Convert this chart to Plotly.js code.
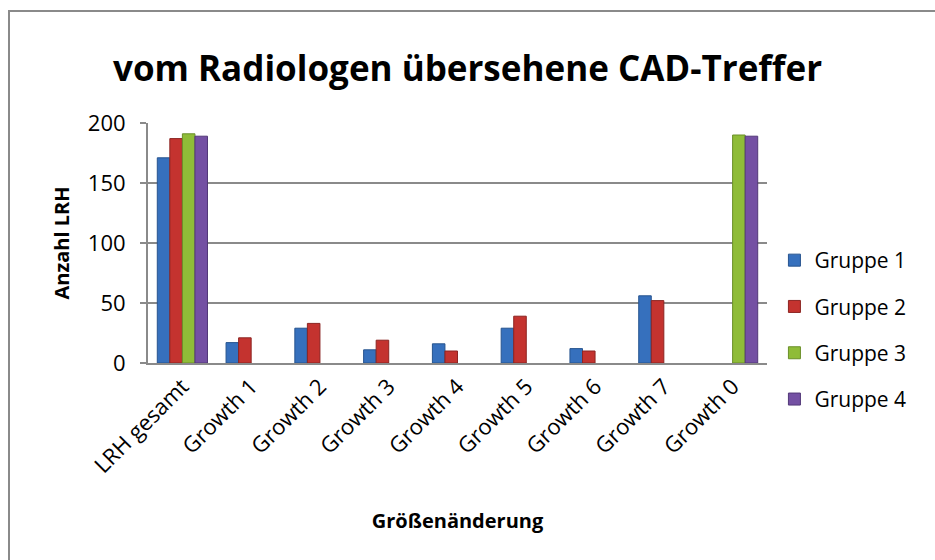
<!DOCTYPE html>
<html>
<head>
<meta charset="utf-8">
<script src="https://cdn.plot.ly/plotly-3.0.1.min.js"></script>
<style>
  html, body { margin: 0; padding: 0; background: #fff; }
  #wrap { position: relative; width: 935px; height: 560px; }
  #chart { width: 935px; height: 560px; }
  #frame { position: absolute; left: 8px; top: 10px; right: 0; bottom: 0;
           border-left: 2px solid #8a8a8a; border-top: 2px solid #8a8a8a; pointer-events: none; }
</style>
</head>
<body>
<div id="wrap"><div id="chart"></div><div id="frame"></div></div>
<script>
const categories = ['LRH gesamt', 'Growth 1', 'Growth 2', 'Growth 3', 'Growth 4', 'Growth 5', 'Growth 6', 'Growth 7', 'Growth 0'];
const gruppe1 = [171, 17, 29, 11, 16, 29, 12, 56, null];
const gruppe2 = [187, 21, 33, 19, 10, 39, 10, 52, null];
const gruppe3 = [191, null, null, null, null, null, null, null, 190];
const gruppe4 = [189, null, null, null, null, null, null, null, 189];
const seriesNames = ['Gruppe 1', 'Gruppe 2', 'Gruppe 3', 'Gruppe 4'];
const yTicks = [0, 50, 100, 150, 200];

const FONT = '"Open Sans", sans-serif';
const colors = ['#3670bd', '#c4332f', '#8fbc38', '#7450a3'];
const lines = ['#27548f', '#8c2522', '#6a8f28', '#523878'];
const data = [gruppe1, gruppe2, gruppe3, gruppe4].map((vals, i) => ({
  type: 'bar',
  x: categories,
  y: vals,
  name: seriesNames[i],
  legendgroup: 'g' + i,
  marker: { color: colors[i], line: { color: lines[i], width: 1 } }
}));

const layout = {
  width: 935, height: 560,
  margin: { l: 148, r: 168, t: 123, b: 197 },
  paper_bgcolor: '#ffffff', plot_bgcolor: '#ffffff',
  font: { family: FONT, color: '#000', size: 18 },
  title: { text: '<b>vom Radiologen übersehene CAD-Treffer</b>', x: 0.5, xanchor: 'center',
           y: 0.878, yanchor: 'middle', font: { family: FONT, size: 35, color: '#000' } },
  barmode: 'group', bargap: 0.27, bargroupgap: 0,
  showlegend: true,
  legend: { x: 1.012, xanchor: 'left', y: 0.1375, yanchor: 'middle', traceorder: 'grouped',
            tracegroupgap: 16, font: { family: FONT, size: 21 }, itemwidth: 30 },
  xaxis: {
    type: 'category', tickangle: -45, showline: true, linecolor: '#8a8a8a', linewidth: 2,
    ticks: '', showgrid: false, tickfont: { family: FONT, size: 22 },
    title: { text: '<b>Größenänderung</b>', font: { family: FONT, size: 20 }, standoff: 36 }
  },
  yaxis: {
    range: [0, 200], tickvals: yTicks, ticktext: yTicks.map(String),
    showline: true, linecolor: '#8a8a8a', linewidth: 2, ticks: 'outside', ticklen: 6,
    tickcolor: '#8a8a8a', tickwidth: 2, ticklabelstandoff: 10,
    showgrid: true, gridcolor: '#8a8a8a', gridwidth: 2, zeroline: false,
    tickfont: { family: FONT, size: 22 },
    title: { text: '<b>Anzahl LRH</b>', font: { family: FONT, size: 20 }, standoff: 13 }
  }
};
Plotly.newPlot('chart', data, layout, { displayModeBar: false, staticPlot: true });
</script>
</body>
</html>
